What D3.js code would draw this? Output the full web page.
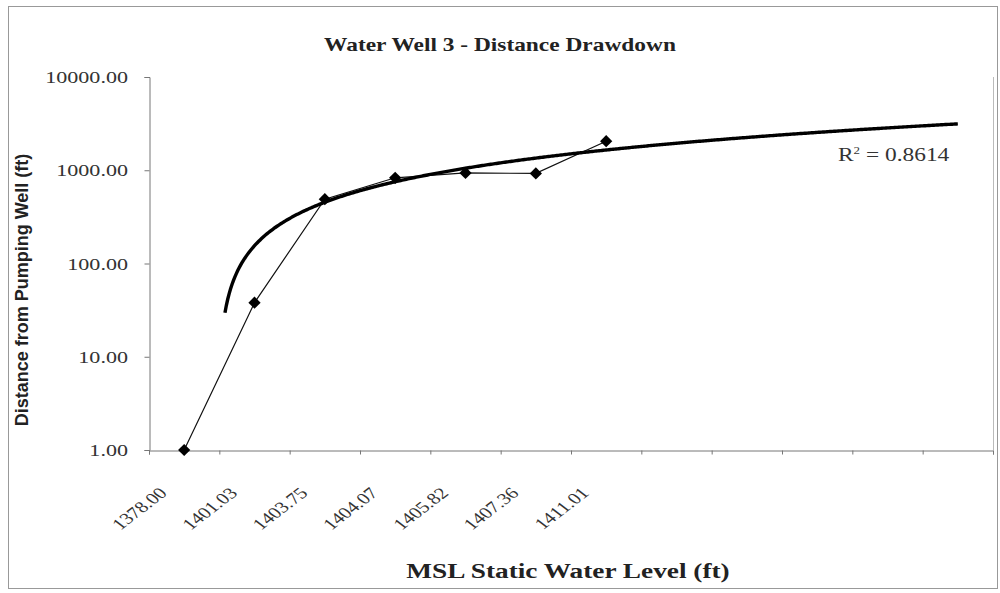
<!DOCTYPE html>
<html>
<head>
<meta charset="utf-8">
<script src="https://cdn.jsdelivr.net/npm/d3@7"></script>
<style>
  body { margin: 0; background: #fff; }
  svg { display: block; }
</style>
</head>
<body>
<svg width="1000" height="593"></svg>
<script>
// Data
var categories = ["1378.00", "1401.03", "1403.75", "1404.07", "1405.82", "1407.36", "1411.01", "", "", "", "", ""];
var distances = [1, 38, 490, 830, 935, 925, 2050];
var yTicks = [1, 10, 100, 1000, 10000];
var r2Label = "= 0.8614";
var trendFloor = 29; // excel stops drawing the trend below this on the log axis

document.addEventListener('DOMContentLoaded', function() {
    var svg = d3.select("svg"),
    width = +svg.attr("width"),
    height = +svg.attr("height");
    var sx = 1.3; // the scan is stretched sideways

    svg.append("rect")
    .attr("x", 0).attr("y", 0).attr("width", width).attr("height", height)
    .attr("fill", "#fff");

    // chart frame
    svg.append("rect")
    .attr("x", 8.5).attr("y", 6.5)
    .attr("width", 989).attr("height", 582)
    .attr("fill", "none")
    .attr("stroke", "#999");

    var margin = {left: 149, right: 993, top: 77, bottom: 450};

    var idx = categories.map(function(d, i) { return i + 1; });
    var x = d3.scaleBand()
    .domain(idx)
    .range([margin.left, margin.right]);
    var y = d3.scaleLog()
    .domain([1, 10000])
    .range([margin.bottom, margin.top]);
    // continuous x for the trend line
    var xc = d3.scaleLinear()
    .domain([0.5, categories.length + 0.5])
    .range([margin.left, margin.right]);

    function stretched(sel, px, py, rot) {
        sel.attr("transform", "translate(" + px + "," + py + ") scale(" + sx + ",1)" + (rot ? " rotate(" + rot + ")" : ""));
        return sel;
    }

    // plot area right edge
    svg.append("line")
    .attr("x1", margin.right + 0.5).attr("x2", margin.right + 0.5)
    .attr("y1", margin.top).attr("y2", margin.bottom)
    .attr("stroke", "#bbb");

    // y axis
    var yAxis = svg.append("g")
    .attr("transform", "translate(" + (margin.left + 0.5) + ",0)")
    .call(d3.axisLeft(y).tickValues(yTicks).tickSize(5).tickFormat(""));
    yAxis.selectAll("line, path").attr("stroke", "#777");

    yTicks.forEach(function(t) {
        stretched(svg.append("text"), margin.left - 21, y(t) + 6)
        .attr("text-anchor", "end")
        .attr("font-family", "Liberation Serif")
        .attr("font-size", 17)
        .attr("fill", "#333")
        .text(d3.format(".2f")(t));
    });

    // x axis
    var xAxis = svg.append("g")
    .attr("transform", "translate(0," + (margin.bottom + 0.5) + ")")
    .call(d3.axisBottom(d3.scaleLinear().domain([0, categories.length]).range([margin.left, margin.right]))
        .ticks(categories.length).tickSize(4).tickFormat(""));
    xAxis.selectAll("line, path").attr("stroke", "#777");

    categories.forEach(function(c, i) {
        if (!c) return;
        var cx = x(i + 1) + x.bandwidth() / 2;
        stretched(svg.append("text"), cx - 16, margin.bottom + 44, -45)
        .attr("text-anchor", "end")
        .attr("font-family", "Liberation Serif")
        .attr("font-size", 16)
        .attr("fill", "#333")
        .text(c);
    });

    // data series
    var pts = distances.map(function(v, i) { return {i: i + 1, v: v}; });
    var line = d3.line()
    .x(function(d) { return x(d.i) + x.bandwidth() / 2; })
    .y(function(d) { return y(d.v); });
    svg.append("path")
    .datum(pts)
    .attr("d", line)
    .attr("fill", "none")
    .attr("stroke", "#111")
    .attr("stroke-width", 1.2);

    // linear trend line (least squares on category index)
    var mx = d3.mean(pts, function(d) { return d.i; });
    var my = d3.mean(pts, function(d) { return d.v; });
    var sxy = d3.sum(pts, function(d) { return (d.i - mx) * (d.v - my); });
    var sxx = d3.sum(pts, function(d) { return (d.i - mx) * (d.i - mx); });
    var slope = sxy / sxx, icpt = my - slope * mx;
    var trend = d3.range(1, categories.length + 0.001, 0.02)
    .map(function(t) { return {t: t, v: slope * t + icpt}; })
    .filter(function(d) { return d.v >= trendFloor; });
    svg.append("path")
    .datum(trend)
    .attr("d", d3.line()
        .x(function(d) { return xc(d.t); })
        .y(function(d) { return y(d.v); }))
    .attr("fill", "none")
    .attr("stroke", "#000")
    .attr("stroke-width", 3.4);

    // diamond markers (square turned 45deg)
    svg.append("g")
    .selectAll("path")
    .data(pts)
    .enter().append("path")
        .attr("d", d3.symbol().type(d3.symbolSquare).size(75))
        .attr("transform", function(d) { return "translate(" + (x(d.i) + x.bandwidth() / 2) + "," + y(d.v) + ") rotate(45)"; })
        .attr("fill", "#000");

    // R squared
    var r2 = stretched(svg.append("text"), 838, 161)
    .attr("font-family", "Liberation Serif")
    .attr("font-size", 18)
    .attr("fill", "#333");
    r2.append("tspan").text("R");
    r2.append("tspan").attr("font-size", 10).attr("dy", -7).text("2");
    r2.append("tspan").attr("dy", 7).text(" " + r2Label);

    // titles
    stretched(svg.append("text"), 500, 51)
    .attr("text-anchor", "middle")
    .attr("font-family", "Liberation Serif")
    .attr("font-weight", "bold")
    .attr("font-size", 18)
    .attr("fill", "#222")
    .text("Water Well 3 - Distance Drawdown");

    svg.append("text")
    .attr("transform", "translate(28,290) rotate(-90)")
    .attr("text-anchor", "middle")
    .attr("font-family", "Liberation Sans")
    .attr("font-weight", "bold")
    .attr("font-size", 18)
    .attr("fill", "#222")
    .text("Distance from Pumping Well (ft)");

    stretched(svg.append("text"), 568, 578)
    .attr("text-anchor", "middle")
    .attr("font-family", "Liberation Serif")
    .attr("font-weight", "bold")
    .attr("font-size", 21)
    .attr("fill", "#222")
    .text("MSL Static Water Level (ft)");
});
</script>
</body>
</html>
